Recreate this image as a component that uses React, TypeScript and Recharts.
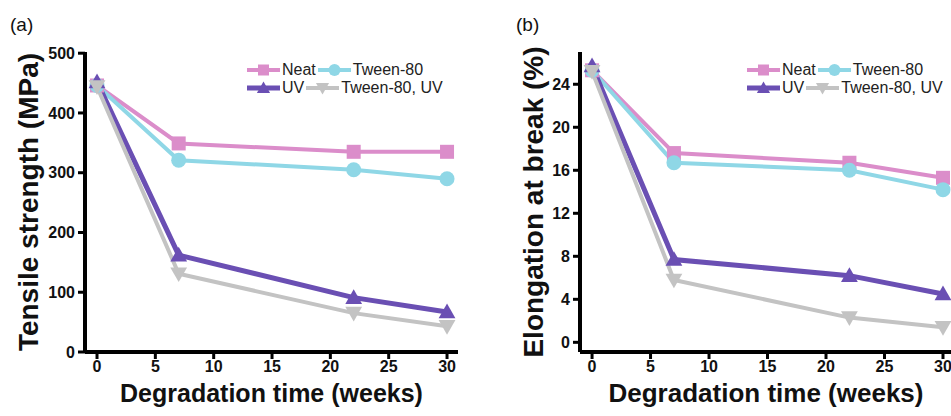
import React from "react";
import { LineChart, Line, XAxis, YAxis, Legend } from "recharts";

// degradation time (weeks)
const weeks = [0, 7, 22, 30];

// (a) tensile strength, MPa
const tensileNeat = [446, 349, 335, 335];
const tensileTween = [446, 321, 305, 290];
const tensileUv = [452, 162, 91, 67];
const tensileTweenUv = [444, 131, 65, 43];

// (b) elongation at break, %
const elongNeat = [25.3, 17.6, 16.7, 15.3];
const elongTween = [25.3, 16.7, 16.0, 14.2];
const elongUv = [25.7, 7.7, 6.2, 4.5];
const elongTweenUv = [25.2, 5.8, 2.3, 1.4];

const xTicks = [0, 5, 10, 15, 20, 25, 30];
const tensileTicks = [0, 100, 200, 300, 400, 500];
const elongTicks = [0, 4, 8, 12, 16, 20, 24];

const FONT = '"Liberation Sans", Arial, sans-serif';

const SERIES = [
  { key: "neat", name: "Neat", color: "#db8dca", shape: "square", width: 4 },
  { key: "tween", name: "Tween-80", color: "#8fd7e6", shape: "circle", width: 4 },
  { key: "uv", name: "UV", color: "#6a4fb3", shape: "up", width: 5 },
  { key: "tweenUv", name: "Tween-80, UV", color: "#c3c3c3", shape: "down", width: 4 },
];

function buildRows(neat: number[], tween: number[], uv: number[], tweenUv: number[]) {
  return weeks.map((w, i) => ({ week: w, neat: neat[i], tween: tween[i], uv: uv[i], tweenUv: tweenUv[i] }));
}

const tensileData = buildRows(tensileNeat, tensileTween, tensileUv, tensileTweenUv);
const elongData = buildRows(elongNeat, elongTween, elongUv, elongTweenUv);

function Marker({ shape, cx, cy, color, size }: any) {
  const h = size / 2;
  if (shape === "square") {
    return <rect x={cx - h} y={cy - h} width={size} height={size} fill={color} />;
  }
  if (shape === "circle") {
    return <circle cx={cx} cy={cy} r={h + 0.5} fill={color} />;
  }
  const t = h * 1.2;
  if (shape === "up") {
    return <polygon points={`${cx},${cy - t} ${cx + t},${cy + t * 0.75} ${cx - t},${cy + t * 0.75}`} fill={color} />;
  }
  return <polygon points={`${cx},${cy + t} ${cx + t},${cy - t * 0.75} ${cx - t},${cy - t * 0.75}`} fill={color} />;
}

function LegendIcon({ s }: any) {
  return (
    <svg width={33} height={16} style={{ display: "block" }}>
      <line x1={0} y1={8} x2={33} y2={8} stroke={s.color} strokeWidth={s.width} />
      <Marker shape={s.shape} cx={16.5} cy={8} color={s.color} size={11} />
    </svg>
  );
}

function LegendBox() {
  const row = (a: any, b: any) => (
    <div style={{ display: "flex", alignItems: "center", height: 18 }}>
      <LegendIcon s={a} />
      <span style={{ marginLeft: 2, marginRight: 2 }}>{a.name}</span>
      <LegendIcon s={b} />
      <span style={{ marginLeft: 2 }}>{b.name}</span>
    </div>
  );
  return (
    <div style={{ fontFamily: FONT, fontSize: 16, color: "#222", lineHeight: "18px" }}>
      {row(SERIES[0], SERIES[1])}
      {row(SERIES[2], SERIES[3])}
    </div>
  );
}

const tickStyle = { fontSize: 16, fontWeight: "bold", fill: "#111", fontFamily: FONT };
const axisLine = { stroke: "#000", strokeWidth: 4 };
const tickLine = { stroke: "#000", strokeWidth: 3 };

function Panel({ data, width, yWidth, marginRight, xDomain, yDomain, yTicks, yTitle, yTitleX, legendLeft, xTitleSize }: any) {
  return (
    <LineChart
      width={width}
      height={416}
      data={data}
      margin={{ top: 52, right: marginRight, bottom: 0, left: 0 }}
    >
      <XAxis
        dataKey="week"
        type="number"
        domain={xDomain}
        allowDataOverflow
        ticks={xTicks}
        height={64}
        tickSize={7}
        tickMargin={2}
        tick={tickStyle}
        axisLine={axisLine}
        tickLine={tickLine}
        label={{
          content: ({ viewBox }: any) => (
            <text
              x={viewBox.x + viewBox.width / 2}
              y={viewBox.y + 50}
              textAnchor="middle"
              fontFamily={FONT}
              fontWeight="bold"
              fontSize={xTitleSize}
              fill="#111"
            >
              Degradation time (weeks)
            </text>
          ),
        }}
      />
      <XAxis xAxisId="top" orientation="top" type="number" domain={xDomain} height={0} tick={false} tickLine={false} axisLine={axisLine} />
      <YAxis
        type="number"
        domain={yDomain}
        allowDataOverflow
        ticks={yTicks}
        width={yWidth}
        tickSize={7}
        tickMargin={3}
        tick={tickStyle}
        axisLine={axisLine}
        tickLine={tickLine}
        label={{
          content: ({ viewBox }: any) => (
            <text
              transform={`translate(${yTitleX},${viewBox.y + viewBox.height / 2}) rotate(-90)`}
              textAnchor="middle"
              fontFamily={FONT}
              fontWeight="bold"
              fontSize={28}
              fill="#111"
            >
              {yTitle}
            </text>
          ),
        }}
      />
      <YAxis yAxisId="right" orientation="right" type="number" domain={yDomain} width={0} tick={false} tickLine={false} axisLine={axisLine} />
      <Legend
        layout="horizontal"
        verticalAlign="middle"
        align="center"
        content={() => <LegendBox />}
        wrapperStyle={{ position: "absolute", left: legendLeft, top: 61, width: 230 }}
      />
      {SERIES.map((s) => (
        <Line
          key={s.key}
          dataKey={s.key}
          name={s.name}
          stroke={s.color}
          strokeWidth={s.width}
          isAnimationActive={false}
          dot={(p: any) => <Marker key={`${s.key}-${p.index}`} shape={s.shape} cx={p.cx} cy={p.cy} color={s.color} size={14} />}
          activeDot={false}
        />
      ))}
    </LineChart>
  );
}

export default function App() {
  return (
    <div style={{ position: "fixed", left: 0, top: 0, width: 951, height: 416, overflow: "hidden", background: "#fff" }}>
      <div style={{ position: "absolute", left: 0, top: 0 }}>
        <Panel
          data={tensileData}
          width={470}
          yWidth={85}
          marginRight={12}
          xDomain={[-1.03, 30.94]}
          yDomain={[0, 502]}
          yTicks={tensileTicks}
          yTitle="Tensile strength (MPa)"
          yTitleX={38}
          legendLeft={247}
          xTitleSize={25}
        />
      </div>
      <div style={{ position: "absolute", left: 480, top: 0 }}>
        <Panel
          data={elongData}
          width={480}
          yWidth={100}
          marginRight={8}
          xDomain={[-1.03, 30.77]}
          yDomain={[-0.9, 27.0]}
          yTicks={elongTicks}
          yTitle="Elongation at break (%)"
          yTitleX={63}
          legendLeft={267}
          xTitleSize={26}
        />
      </div>
      <div style={{ position: "absolute", left: 10, top: 14, fontFamily: FONT, fontSize: 19, color: "#111" }}>(a)</div>
      <div style={{ position: "absolute", left: 516, top: 14, fontFamily: FONT, fontSize: 19, color: "#111" }}>(b)</div>
    </div>
  );
}
